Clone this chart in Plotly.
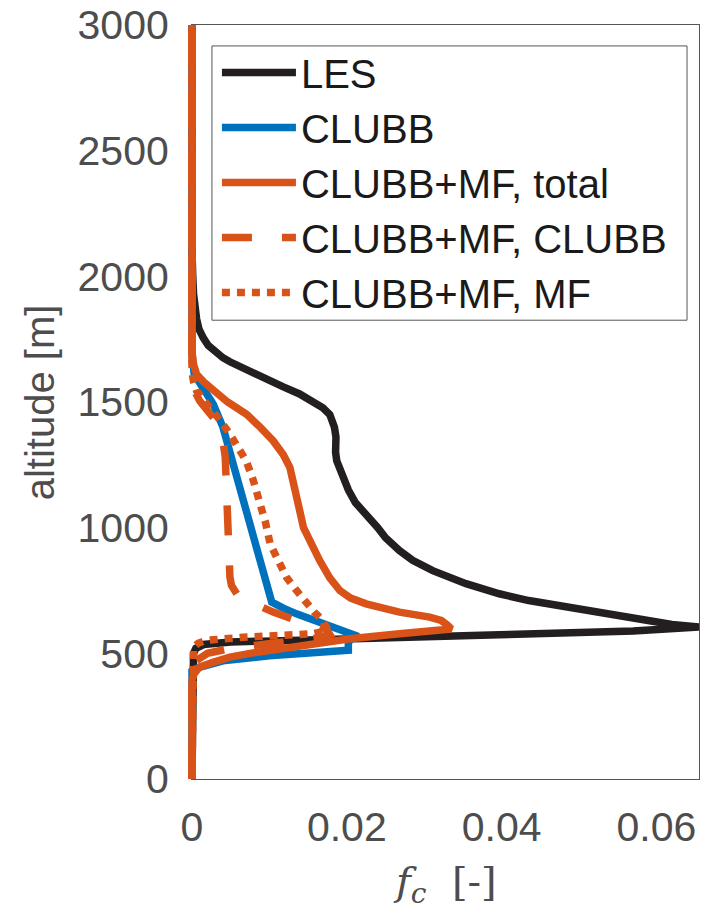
import plotly.graph_objects as go

# ---------------- data ----------------
les_z = [0, 440, 470, 500, 520, 535, 545, 560, 574, 589, 605, 615, 628, 644, 665, 684, 710, 737, 777, 829,
         870, 909, 960, 1000, 1054, 1100, 1150, 1200, 1240, 1266, 1300, 1330, 1360, 1400, 1425, 1450, 1477,
         1500, 1532, 1560, 1596, 1620, 1640, 1660, 1676, 1700, 1725, 1755, 1790, 1830, 1870, 1930, 2000,
         2100, 3000]
les_fc = [0, 0, 0.0001, 0.0002, 0.0005, 0.0015, 0.005, 0.020, 0.0397, 0.057, 0.0655, 0.062, 0.0595, 0.057,
          0.0525, 0.0484, 0.0435, 0.0397, 0.0354, 0.0311, 0.0285, 0.0268, 0.0250, 0.0240, 0.0225, 0.0211,
          0.0202, 0.0195, 0.0189, 0.0187, 0.01855, 0.0186, 0.0186, 0.0184, 0.0182, 0.0178, 0.0169, 0.0158,
          0.0139, 0.0118, 0.0092, 0.0074, 0.0061, 0.0049, 0.0040, 0.0029, 0.0021, 0.00146, 0.0009, 0.0006,
          0.0004, 0.0002, 0.0001, 0, 0]

clubb_z = [0, 430, 440, 455, 470, 490, 505, 512, 540, 560, 567, 585, 611, 630, 657, 680, 704, 869, 1067,
           1200, 1319, 1400, 1491, 1550, 1610, 1660, 1700, 3000]
clubb_fc = [0, 0, 0.0005, 0.002, 0.004, 0.010, 0.018, 0.0202, 0.0202, 0.0205, 0.0215, 0.0198, 0.0178, 0.0158,
            0.0135, 0.0118, 0.0103, 0.0088, 0.00705, 0.006, 0.0049, 0.0040, 0.00275, 0.0015, 0.0003, 0.0001, 0, 0]

total_z = [0, 393, 420, 446, 465, 485, 500, 519, 545, 558, 578, 597, 612, 631, 644, 664, 697, 720, 750, 800,
           869, 940, 1001, 1070, 1134, 1190, 1239, 1290, 1345, 1400, 1451, 1500, 1544, 1580, 1610, 1650, 1700, 3000]
total_fc = [0, 0, 0.0003, 0.001, 0.0028, 0.0049, 0.0075, 0.0114, 0.0178, 0.0204, 0.0268, 0.0335, 0.0330,
            0.0322, 0.0307, 0.0268, 0.0225, 0.0205, 0.0191, 0.0178, 0.0165, 0.0155, 0.0144, 0.0139, 0.0135,
            0.0131, 0.01265, 0.0118, 0.0105, 0.0088, 0.00705, 0.0046, 0.00275, 0.0015, 0.0006, 0.0002, 0, 0]

mfclubb_z = [0, 440, 470, 500, 520, 540, 560, 575, 590, 604, 631, 664, 690, 710, 736, 770, 803, 900, 1001,
             1100, 1200, 1280, 1345, 1400, 1438, 1470, 1504, 1540, 1580, 1620, 3000]
mfclubb_fc = [0, 0, 0.0005, 0.002, 0.005, 0.010, 0.016, 0.0178, 0.0175, 0.0169, 0.0135, 0.0105, 0.0085, 0.0071,
              0.0058, 0.0051, 0.0049, 0.0048, 0.0047, 0.0046, 0.0045, 0.0043, 0.0040, 0.0033, 0.00275, 0.0019,
              0.0010, 0.0004, 0.0001, 0, 0]

mf_z = [0, 470, 498, 525, 540, 552, 565, 578, 591, 605, 631, 664, 697, 750, 803, 870, 935, 1020, 1107, 1190,
        1266, 1320, 1372, 1420, 1464, 1510, 1544, 1580, 1620, 3000]
mf_fc = [0, 0, 0.0001, 0.0002, 0.0008, 0.0019, 0.0071, 0.0157, 0.0176, 0.0174, 0.0169, 0.0158, 0.0148, 0.0135,
         0.0122, 0.0110, 0.0101, 0.0095, 0.0088, 0.0079, 0.0070, 0.0060, 0.0049, 0.0038, 0.00275, 0.0015,
         0.0006, 0.0002, 0, 0]

series_names = ["LES", "CLUBB", "CLUBB+MF, total", "CLUBB+MF, CLUBB", "CLUBB+MF, MF"]
x_ticks = [0, 0.02, 0.04, 0.06]
x_ticktext = ["0", "0.02", "0.04", "0.06"]
y_ticks = [0, 500, 1000, 1500, 2000, 2500, 3000]
x_range = [0, 0.0655]
y_range = [0, 3000]

# ---------------- styling ----------------
BLACK = "#231F20"
BLUE = "#0072BD"
ORANGE = "#D95319"
LW = 7.5
FONT = "Liberation Sans, Arial, sans-serif"
TICKCOL = "#4D4D4D"
AXCOL = "#555555"

# layout geometry (pixels)
W, H = 702, 912
ML, MR, MT, MB = 187, 2, 23, 133
PW = W - ML - MR           # paper width
PH = H - MT - MB           # paper height
AX_LEFT = 192              # pixel position of x = 0
dom0 = (AX_LEFT - ML) / PW
# invisible overlay axis spanning a few extra pixels so lines at x=0 are not half-clipped
x2_min = -x_range[1] * (AX_LEFT - ML) / (W - MR - AX_LEFT)

def px_x(p):
    return (p - ML) / PW

def px_y(p):
    return (H - MB - p) / PH

fig = go.Figure()
# empty trace so the visible axes subplot (x, y) is created
fig.add_trace(go.Scatter(x=[], y=[], mode="lines", showlegend=False, hoverinfo="skip",
                         xaxis="x", yaxis="y"))
specs = [
    (les_fc, les_z, BLACK, "solid"),
    (clubb_fc, clubb_z, BLUE, "solid"),
    (total_fc, total_z, ORANGE, "solid"),
    (mfclubb_fc, mfclubb_z, ORANGE, "30px,30px"),
    (mf_fc, mf_z, ORANGE, "8px,7px"),
]
for (xv, zv, col, dash), name in zip(specs, series_names):
    fig.add_trace(go.Scatter(x=xv, y=zv, mode="lines", name=name, xaxis="x2", yaxis="y2",
                             line=dict(color=col, width=LW, dash=dash)))

fig.update_layout(
    width=W, height=H,
    margin=dict(l=ML, r=MR, t=MT, b=MB),
    paper_bgcolor="white", plot_bgcolor="white",
    font=dict(family=FONT, size=40, color=TICKCOL),
    showlegend=True,
    legend=dict(x=px_x(217), y=px_y(38), xanchor="left", yanchor="top",
                bgcolor="rgba(0,0,0,0)", borderwidth=0,
                font=dict(family=FONT, size=40, color="#1a1a1a"),
                itemwidth=74, tracegroupgap=0),
    shapes=[dict(type="rect", xref="paper", yref="paper", layer="above",
                 x0=px_x(212), x1=px_x(688), y0=px_y(319), y1=px_y(44),
                 fillcolor="white", line=dict(color=AXCOL, width=1))],
    annotations=[
        dict(text="altitude [m]", x=px_x(40), xref="paper", y=0.5, yref="paper",
             showarrow=False, textangle=-90, font=dict(family=FONT, size=40, color=TICKCOL),
             xanchor="center", yanchor="middle"),
        dict(text="<i>f</i><sub><i>c</i></sub>  [-]", x=px_x(446), xref="paper", y=px_y(884), yref="paper",
             showarrow=False, font=dict(family="DejaVu Serif, Liberation Serif, serif", size=40, color=TICKCOL),
             xanchor="center", yanchor="middle"),
    ],
    xaxis=dict(domain=[dom0, 1], range=x_range, tickvals=x_ticks, ticktext=x_ticktext, anchor="y",
               showgrid=True, gridcolor="#E6E6E6", gridwidth=1.5, zeroline=False,
               showline=True, linecolor=AXCOL, linewidth=1, mirror="ticks",
               ticks="inside", ticklen=7, tickcolor=AXCOL,
               tickfont=dict(family=FONT, size=41, color=TICKCOL), ticklabelstandoff=12),
    yaxis=dict(domain=[0, 1], range=y_range, tickvals=y_ticks, anchor="x",
               showgrid=True, gridcolor="#E6E6E6", gridwidth=1.5, zeroline=False,
               showline=True, linecolor=AXCOL, linewidth=1, mirror="ticks",
               ticks="inside", ticklen=7, tickcolor=AXCOL,
               tickfont=dict(family=FONT, size=41, color=TICKCOL), ticklabelstandoff=14),
    xaxis2=dict(domain=[0, 1], range=[x2_min, x_range[1]], anchor="y2", visible=False),
    yaxis2=dict(domain=[0, 1], range=y_range, anchor="x2", visible=False),
)

fig.write_html("out.html")
